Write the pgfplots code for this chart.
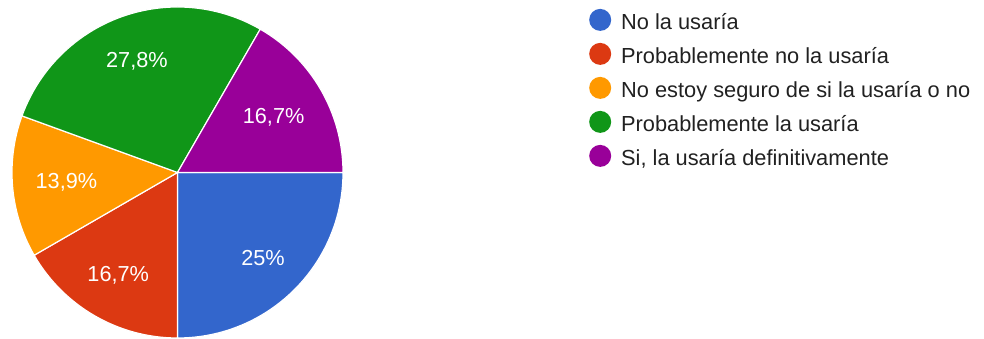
\documentclass[border=0pt]{standalone}
\usepackage{pgfplots}
\pgfplotsset{compat=1.18}
\usepackage{fontspec}
\setmainfont{Liberation Sans}
\definecolor{gblue}{HTML}{3366CC}
\definecolor{gred}{HTML}{DC3912}
\definecolor{gorange}{HTML}{FF9900}
\definecolor{ggreen}{HTML}{109618}
\definecolor{gpurple}{HTML}{990099}
\definecolor{ltext}{HTML}{212121}
% #1 cumulative count before slice, #2 count, #3 colour, #4 label, #5 label distance
\newcommand\slice[5]{%
  \fill[#3, draw=white, line width=1.2bp] (axis cs:177.5,166.5) -- ++({-#1*10}:165.5bp)
     arc[start angle={-#1*10}, delta angle={-#2*10}, radius=165.5bp] -- cycle;
  \path (axis cs:177.5,166.5) ++({-(#1+#2/2)*10}:#5bp) node[text=white, font=\fontsize{21.7bp}{24bp}\selectfont] {#4};
}
\begin{document}
\begin{tikzpicture}
\begin{axis}[
  width=984bp, height=339bp, scale only axis,
  xmin=0, xmax=984, ymin=0, ymax=339,
  hide axis, clip=false,
  legend style={at={(axis cs:586,333)}, anchor=north west, draw=none, fill=none,
    font=\fontsize{21.8bp}{24bp}\selectfont, text=ltext,
    nodes={inner sep=0pt, text height=15.5bp, text depth=4.5bp},
    row sep=8.5bp, column sep=10bp},
  legend cell align=left,
  legend image code/.code={\path[draw=none,fill=none] (0bp,-4.5bp) rectangle (22bp,15.5bp);\fill[draw=none] (11bp,3.8bp) circle (11bp);},
]
\path (axis cs:0,0) (axis cs:984,339);
% counts out of 36 answers: 9, 6, 5, 10, 6
\slice{0}{9}{gblue}{25\%}{121}
\slice{9}{6}{gred}{16,7\%}{118.5}
\slice{15}{5}{gorange}{13,9\%}{111.5}
\slice{20}{10}{ggreen}{27,8\%}{118.7}
\slice{30}{6}{gpurple}{16,7\%}{111}
\addlegendimage{gblue}\addlegendentry{No la usaría}
\addlegendimage{gred}\addlegendentry{Probablemente no la usaría}
\addlegendimage{gorange}\addlegendentry{No estoy seguro de si la usaría o no}
\addlegendimage{ggreen}\addlegendentry{Probablemente la usaría}
\addlegendimage{gpurple}\addlegendentry{Si, la usaría definitivamente}
\end{axis}
\end{tikzpicture}
\end{document}
